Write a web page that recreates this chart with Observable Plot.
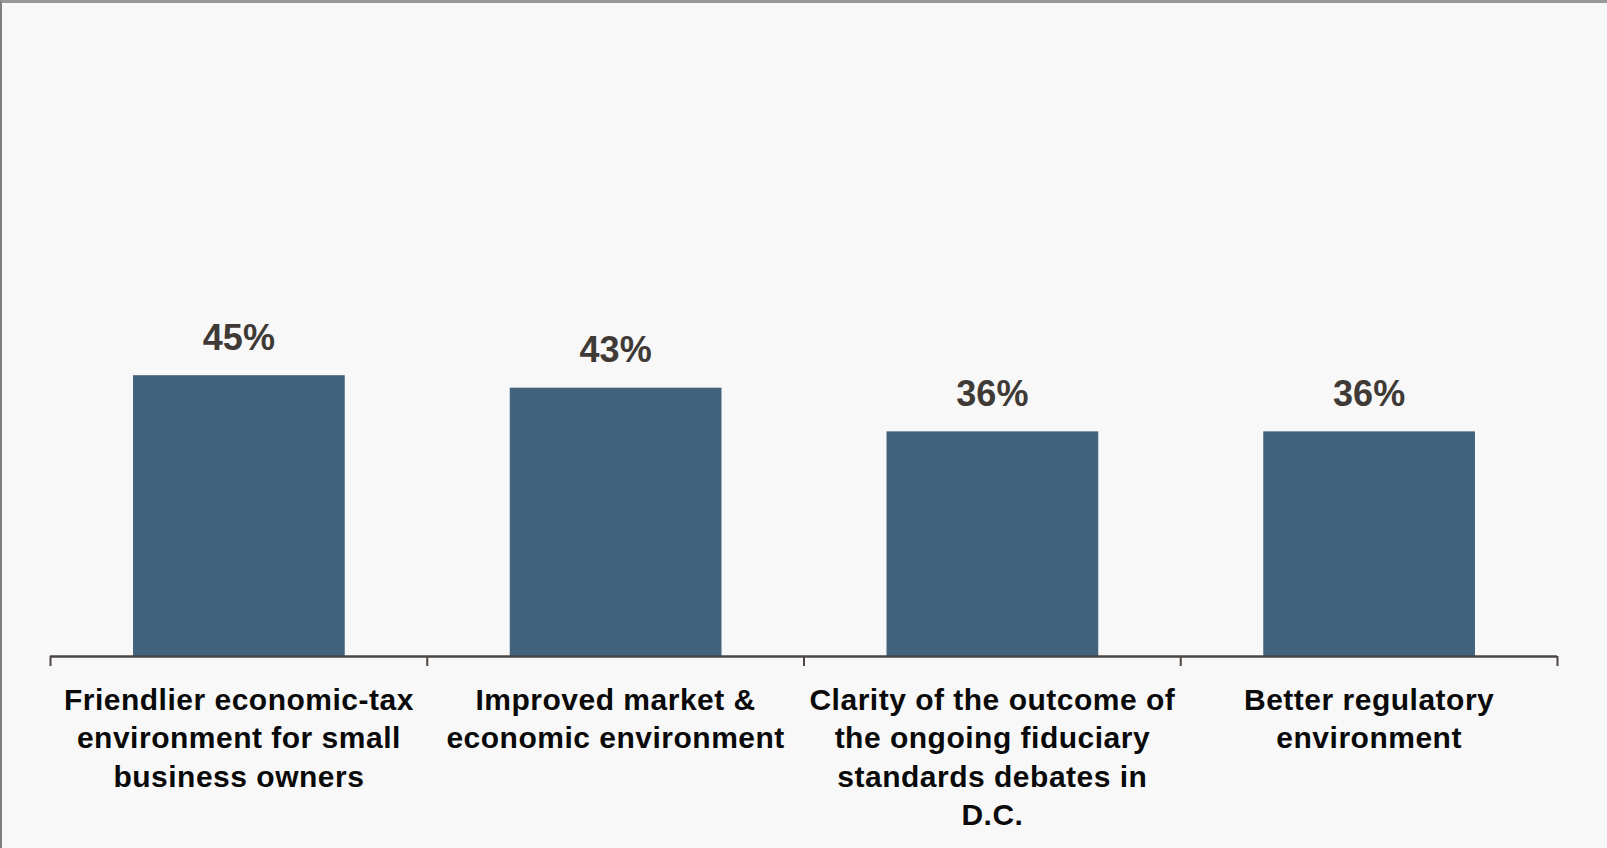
<!DOCTYPE html>
<html>
<head>
<meta charset="utf-8">
<script src="https://cdn.jsdelivr.net/npm/d3@7"></script>
<script src="https://cdn.jsdelivr.net/npm/@observablehq/plot@0.6"></script>
<style>
  html, body { margin: 0; padding: 0; background: #f8f8f8; }
  #wrap { position: relative; width: 1607px; height: 848px; overflow: hidden; background: #f8f8f8; }
  #frame { position: absolute; left: 0; top: 0; width: 1607px; height: 848px; box-sizing: border-box;
           border-top: 3px solid #999999; border-left: 2px solid #7f7f7f; pointer-events: none; }
  .cat-labels text { letter-spacing: 0.5px; }
</style>
</head>
<body>
<div id="wrap"><div id="frame"></div></div>
<script>
// Survey categories (line breaks as in the printed labels) and their shares, in percent
const categories = [
  "Friendlier economic-tax\nenvironment for small\nbusiness owners",
  "Improved market &\neconomic environment",
  "Clarity of the outcome of\nthe ongoing fiduciary\nstandards debates in\nD.C.",
  "Better regulatory\nenvironment"
];
const values = [45, 43, 36, 36];
const boundaries = [0, 1, 2, 3, 4];

const rows = categories.map((label, i) => ({ i, label, value: values[i] }));

const font = "'Liberation Sans', Arial, Helvetica, sans-serif";

const chart = Plot.plot({
  width: 1607,
  height: 848,
  marginLeft: 50,
  marginRight: 50,
  marginTop: 32,
  marginBottom: 192,
  style: { background: "transparent", fontFamily: font, overflow: "visible" },
  x: { domain: [0, categories.length], axis: null, label: null },
  y: { domain: [0, 100], axis: null, label: null },
  marks: [
    Plot.rectY(rows, {
      x1: "i",
      x2: (d) => d.i + 1,
      y: "value",
      fill: "#41637e",
      insetLeft: 83,
      insetRight: 82
    }),
    Plot.ruleY([0], { stroke: "#4b4643", strokeWidth: 2.5 }),
    Plot.axisX({
      ticks: boundaries,
      tickSize: 10,
      tickFormat: () => "",
      stroke: "#4b4643",
      strokeWidth: 2,
      label: null
    }),
    Plot.text(rows, {
      x: (d) => d.i + 0.5,
      y: "value",
      text: (d) => `${d.value}%`,
      lineAnchor: "bottom",
      dy: -26,
      fontSize: 36,
      fontWeight: "bold",
      fill: "#3f3a36"
    }),
    Plot.text(rows, {
      x: (d) => d.i + 0.5,
      y: 0,
      text: "label",
      lineAnchor: "top",
      lineHeight: 1.28,
      dy: 26,
      fontSize: 30,
      fontWeight: "bold",
      fill: "#0a0a0a",
      className: "cat-labels"
    })
  ]
});

document.getElementById("wrap").insertBefore(chart, document.getElementById("frame"));
</script>
</body>
</html>
